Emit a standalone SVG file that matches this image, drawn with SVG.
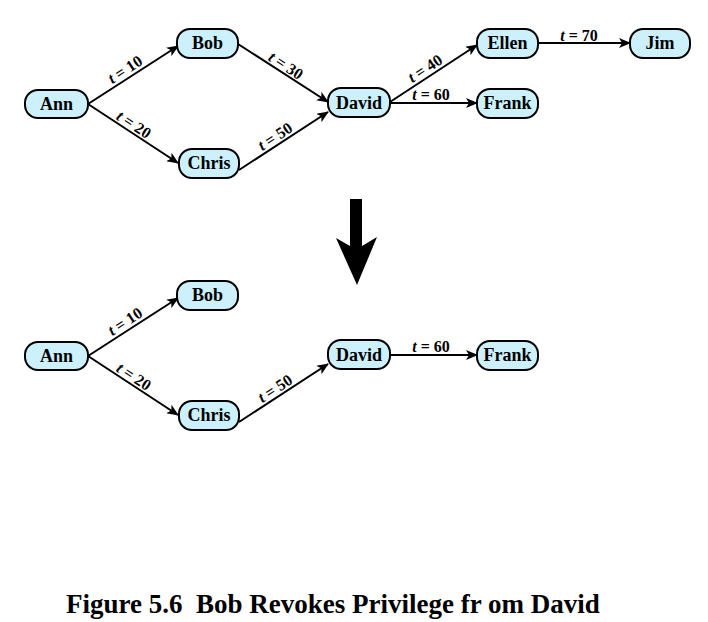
<svg xmlns="http://www.w3.org/2000/svg" width="708" height="622" viewBox="0 0 708 622">
<defs>
<style>
.node rect{fill:#ccf0fc;stroke:#000;stroke-width:2}
.node text{font-family:"Liberation Serif","Times New Roman",serif;font-weight:bold;font-size:18px;text-anchor:middle;fill:#000}
.edge{stroke:#000;stroke-width:2;fill:none;marker-end:url(#ah)}
.lbl{font-family:"Liberation Serif","Times New Roman",serif;font-weight:bold;font-size:16px;text-anchor:middle;fill:#000}
.cap{font-family:"Liberation Serif","Times New Roman",serif;font-weight:bold;font-size:27px;fill:#000;white-space:pre}
</style>
<marker id="ah" markerUnits="userSpaceOnUse" markerWidth="12" markerHeight="10" refX="11" refY="5" orient="auto">
<path d="M0,0 L12,5 L0,10 L3,5 z" fill="#000"/>
</marker>
</defs>
<rect width="708" height="622" fill="#fff"/>
<g id="connectors">
<line class="edge" x1="88" y1="104" x2="178" y2="46"/>
<line class="edge" x1="88" y1="104" x2="178" y2="163"/>
<line class="edge" x1="238" y1="44" x2="328" y2="102"/>
<line class="edge" x1="239" y1="170" x2="328" y2="112"/>
<line class="edge" x1="390" y1="102" x2="477" y2="45"/>
<line class="edge" x1="390" y1="103" x2="477" y2="103"/>
<line class="edge" x1="538" y1="43" x2="630" y2="43"/>
<line class="edge" x1="88" y1="356" x2="178" y2="298"/>
<line class="edge" x1="88" y1="356" x2="178" y2="415"/>
<line class="edge" x1="239" y1="422" x2="328" y2="364"/>
<line class="edge" x1="390" y1="355" x2="477" y2="355"/>
</g>
<g id="edge-labels">
<text class="lbl" transform="translate(128,74) rotate(-33)"><tspan font-style="italic">t</tspan> = 10</text>
<text class="lbl" transform="translate(131,129) rotate(33)"><tspan font-style="italic">t</tspan> = 20</text>
<text class="lbl" transform="translate(283,70) rotate(33)"><tspan font-style="italic">t</tspan> = 30</text>
<text class="lbl" transform="translate(278,141) rotate(-33)"><tspan font-style="italic">t</tspan> = 50</text>
<text class="lbl" transform="translate(428,73) rotate(-33)"><tspan font-style="italic">t</tspan> = 40</text>
<text class="lbl" x="431" y="100"><tspan font-style="italic">t</tspan> = 60</text>
<text class="lbl" x="579" y="41"><tspan font-style="italic">t</tspan> = 70</text>
<text class="lbl" transform="translate(128,326) rotate(-33)"><tspan font-style="italic">t</tspan> = 10</text>
<text class="lbl" transform="translate(131,381) rotate(33)"><tspan font-style="italic">t</tspan> = 20</text>
<text class="lbl" transform="translate(278,393) rotate(-33)"><tspan font-style="italic">t</tspan> = 50</text>
<text class="lbl" x="431" y="352"><tspan font-style="italic">t</tspan> = 60</text>
</g>
<g id="top-ann" class="node"><rect x="25" y="90" width="63" height="28" rx="13"/><text x="56.5" y="110">Ann</text></g>
<g id="top-bob" class="node"><rect x="177" y="29" width="61" height="29" rx="13"/><text x="207.5" y="49">Bob</text></g>
<g id="top-chris" class="node"><rect x="179" y="149" width="60" height="29" rx="13"/><text x="209" y="169">Chris</text></g>
<g id="top-david" class="node"><rect x="328" y="88" width="62" height="29" rx="13"/><text x="359" y="109">David</text></g>
<g id="top-ellen" class="node"><rect x="477" y="29" width="61" height="29" rx="13"/><text x="507.5" y="49">Ellen</text></g>
<g id="top-frank" class="node"><rect x="477" y="89" width="61" height="29" rx="13"/><text x="507.5" y="109">Frank</text></g>
<g id="top-jim" class="node"><rect x="630" y="29" width="60" height="29" rx="13"/><text x="660" y="49">Jim</text></g>
<g id="big-arrow"><polygon points="350,199 362,199 362,246 377,237 357,285 336,238 350,246" fill="#000"/></g>
<g id="bot-ann" class="node"><rect x="25" y="342" width="63" height="28" rx="13"/><text x="56.5" y="362">Ann</text></g>
<g id="bot-bob" class="node"><rect x="177" y="281" width="61" height="29" rx="13"/><text x="207.5" y="301">Bob</text></g>
<g id="bot-chris" class="node"><rect x="179" y="401" width="60" height="29" rx="13"/><text x="209" y="421">Chris</text></g>
<g id="bot-david" class="node"><rect x="328" y="340" width="62" height="29" rx="13"/><text x="359" y="361">David</text></g>
<g id="bot-frank" class="node"><rect x="477" y="341" width="61" height="29" rx="13"/><text x="507.5" y="361">Frank</text></g>
<text class="cap" x="66" y="613" xml:space="preserve">Figure 5.6  Bob Revokes Privilege fr om David</text>
</svg>
